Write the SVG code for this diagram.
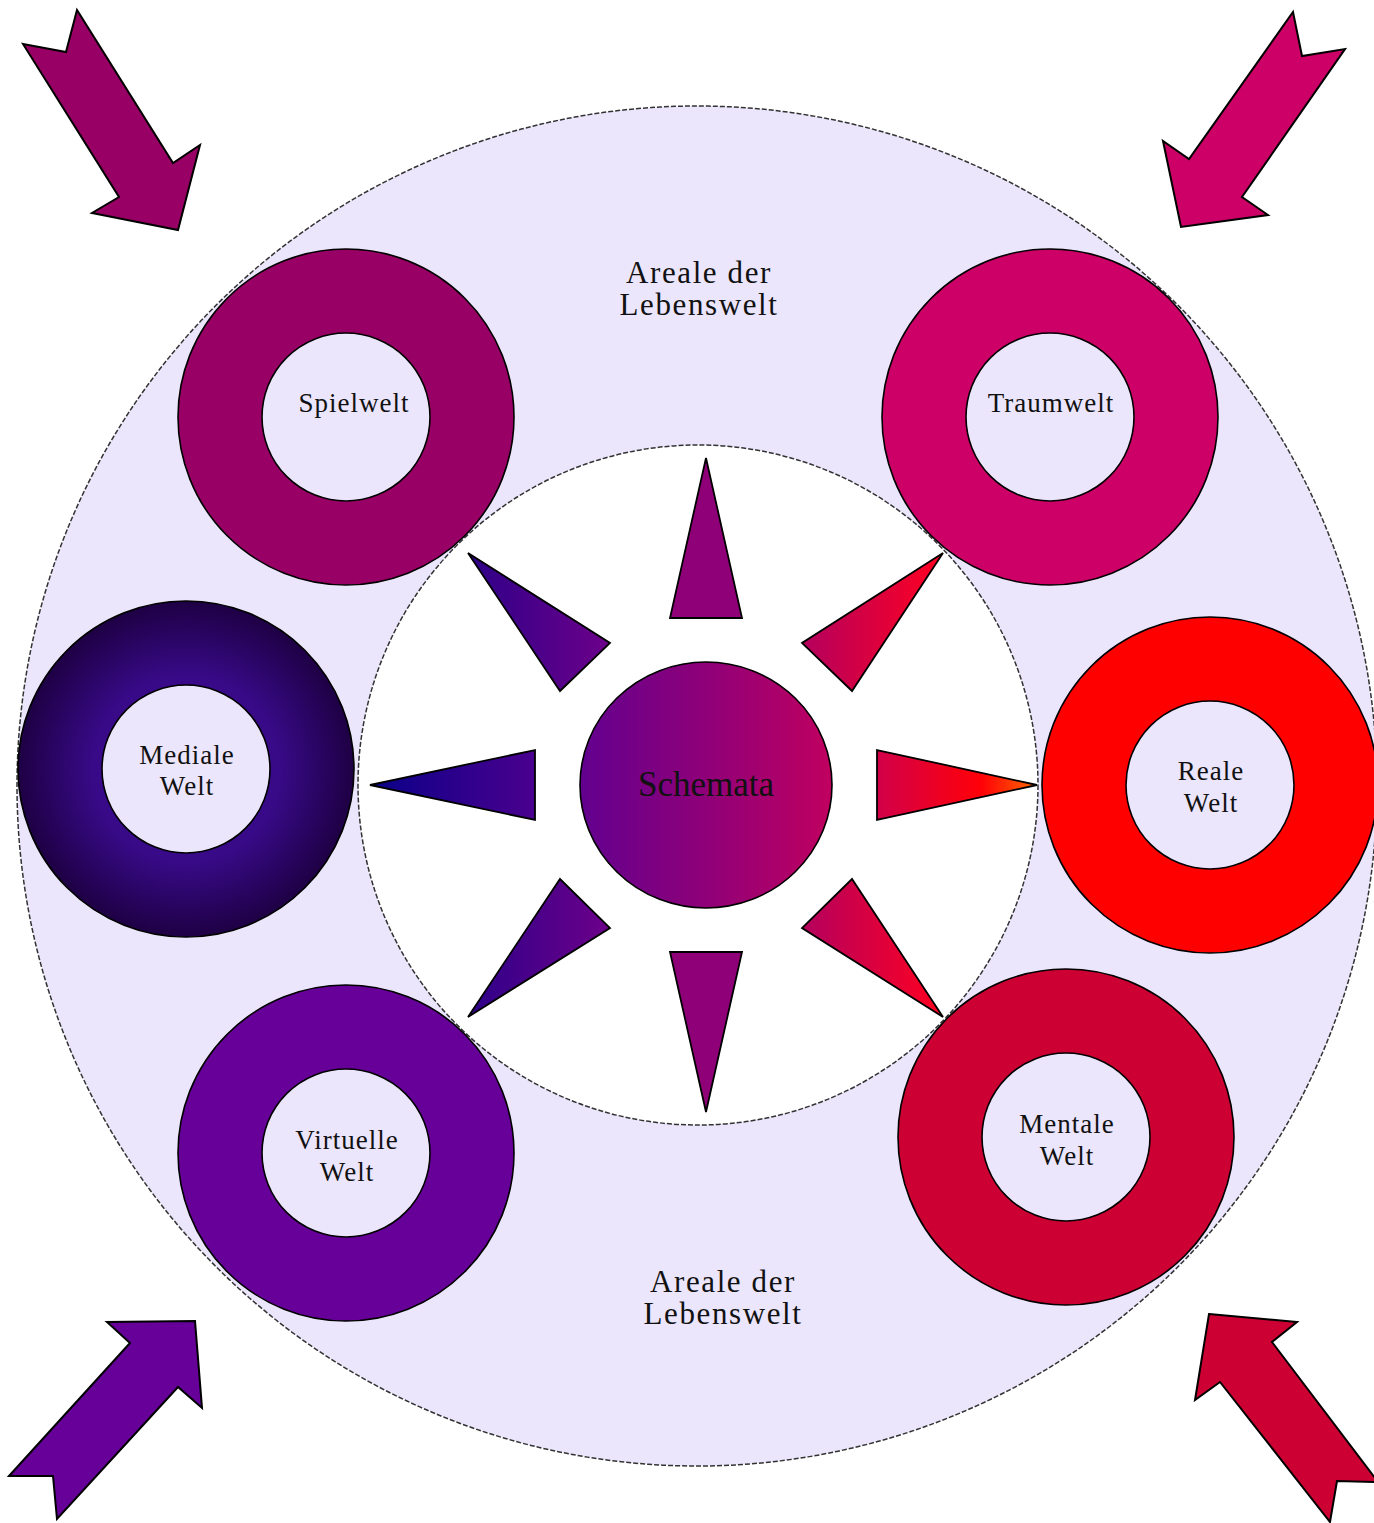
<svg xmlns="http://www.w3.org/2000/svg" width="1374" height="1523" viewBox="0 0 1374 1523">
<defs>
<style>
.area{fill:#ebe6fc;stroke:#333;stroke-width:1.5;stroke-dasharray:5,2}
.inner{fill:#ffffff;stroke:#333;stroke-width:1.5;stroke-dasharray:5,2}
.ln{stroke:#000;stroke-width:1.6}
.hole{fill:#ebe6fc;stroke:#000;stroke-width:1.6}
.arrow{stroke:#000;stroke-width:2;stroke-linejoin:miter}
.tri{stroke:#000;stroke-width:1.8;stroke-linejoin:miter}
.lbl{font-family:"Liberation Serif","DejaVu Serif",serif;font-size:27px;letter-spacing:1px;fill:#111;text-anchor:middle}
.big{font-family:"Liberation Serif","DejaVu Serif",serif;font-size:31px;letter-spacing:1.6px;fill:#111;text-anchor:middle}
.sch{font-family:"Liberation Serif","DejaVu Serif",serif;font-size:35px;fill:#111;text-anchor:middle}
</style>
<radialGradient id="gMed" cx="186" cy="769" r="168" gradientUnits="userSpaceOnUse">
<stop offset="0" stop-color="#3a0a8c"/>
<stop offset="0.55" stop-color="#380a88"/>
<stop offset="1" stop-color="#1e0044"/>
</radialGradient>
<linearGradient id="gSch" x1="0" y1="0" x2="1" y2="0">
<stop offset="0" stop-color="#62008f"/>
<stop offset="0.5" stop-color="#8f0078"/>
<stop offset="1" stop-color="#c00060"/>
</linearGradient>
<linearGradient id="gL" x1="0" y1="0" x2="1" y2="0">
<stop offset="0" stop-color="#0a0088"/>
<stop offset="1" stop-color="#4a008e"/>
</linearGradient>
<linearGradient id="gR" x1="0" y1="0" x2="1" y2="0">
<stop offset="0" stop-color="#d2004a"/>
<stop offset="0.65" stop-color="#ff0008"/>
<stop offset="1" stop-color="#ff6a00"/>
</linearGradient>
<linearGradient id="gDL" x1="0" y1="0" x2="1" y2="0">
<stop offset="0" stop-color="#2e0088"/>
<stop offset="1" stop-color="#6c008a"/>
</linearGradient>
<linearGradient id="gDR" x1="0" y1="0" x2="1" y2="0">
<stop offset="0" stop-color="#b4005e"/>
<stop offset="1" stop-color="#ff0020"/>
</linearGradient>
</defs>
<rect width="1374" height="1523" fill="#ffffff"/>

<g id="lebenswelt">
<circle class="area" cx="697" cy="786" r="680"/>
<text class="big" x="699" y="283">Areale der</text>
<text class="big" x="699" y="315">Lebenswelt</text>
<text class="big" x="723" y="1292">Areale der</text>
<text class="big" x="723" y="1324">Lebenswelt</text>
</g>

<g id="schemata-area">
<circle class="inner" cx="698" cy="785" r="340"/>
</g>

<g id="connectors">
<polygon class="arrow" fill="#990066" points="23,44 66,52 77,10 173,163 200,145 178,230 92,213 119,197"/>
<polygon class="arrow" fill="#cc0066" points="1293,12 1302,56 1345,49 1242,197 1268,215 1181,227 1163,141 1189,159"/>
<polygon class="arrow" fill="#660099" points="9,1476 130,1343 107,1322 195,1321 202,1408 178,1387 57,1519 53,1476"/>
<polygon class="arrow" fill="#cc0033" points="1209,1314 1297,1322 1272,1342 1378,1482 1337,1481 1330,1522 1220,1382 1195,1400"/>
</g>

<g id="spielwelt">
<circle class="ln" fill="#990066" cx="346" cy="417" r="168"/>
<circle class="hole" cx="346" cy="417" r="84"/>
<text class="lbl" x="354" y="412">Spielwelt</text>
</g>

<g id="traumwelt">
<circle class="ln" fill="#cc0066" cx="1050" cy="417" r="168"/>
<circle class="hole" cx="1050" cy="417" r="84"/>
<text class="lbl" x="1051" y="412">Traumwelt</text>
</g>

<g id="mediale-welt">
<circle class="ln" fill="url(#gMed)" cx="186" cy="769" r="168"/>
<circle class="hole" cx="186" cy="769" r="84"/>
<text class="lbl" x="187" y="764">Mediale</text>
<text class="lbl" x="187" y="795">Welt</text>
</g>

<g id="reale-welt">
<circle class="ln" fill="#ff0000" cx="1210" cy="785" r="168"/>
<circle class="hole" cx="1210" cy="785" r="84"/>
<text class="lbl" x="1211" y="780">Reale</text>
<text class="lbl" x="1211" y="812">Welt</text>
</g>

<g id="virtuelle-welt">
<circle class="ln" fill="#660099" cx="346" cy="1153" r="168"/>
<circle class="hole" cx="346" cy="1153" r="84"/>
<text class="lbl" x="347" y="1149">Virtuelle</text>
<text class="lbl" x="347" y="1181">Welt</text>
</g>

<g id="mentale-welt">
<circle class="ln" fill="#cc0033" cx="1066" cy="1137" r="168"/>
<circle class="hole" cx="1066" cy="1137" r="84"/>
<text class="lbl" x="1067" y="1133">Mentale</text>
<text class="lbl" x="1067" y="1165">Welt</text>
</g>

<g id="rays">
<polygon class="tri" fill="#8f0078" points="706,458 742,618 670,618"/>
<polygon class="tri" fill="#8f0078" points="706,1112 742,952 670,952"/>
<polygon class="tri" fill="url(#gL)" points="370,785 535,750 535,820"/>
<polygon class="tri" fill="url(#gR)" points="1037,785 877,750 877,820"/>
<polygon class="tri" fill="url(#gDL)" points="468,553 610,643 560,691"/>
<polygon class="tri" fill="url(#gDR)" points="943,553 852,691 802,643"/>
<polygon class="tri" fill="url(#gDL)" points="468,1017 560,879 610,928"/>
<polygon class="tri" fill="url(#gDR)" points="943,1017 802,928 852,879"/>
</g>

<g id="schemata">
<ellipse class="ln" fill="url(#gSch)" cx="706" cy="785" rx="126" ry="123"/>
<text class="sch" x="706" y="796">Schemata</text>
</g>
</svg>
